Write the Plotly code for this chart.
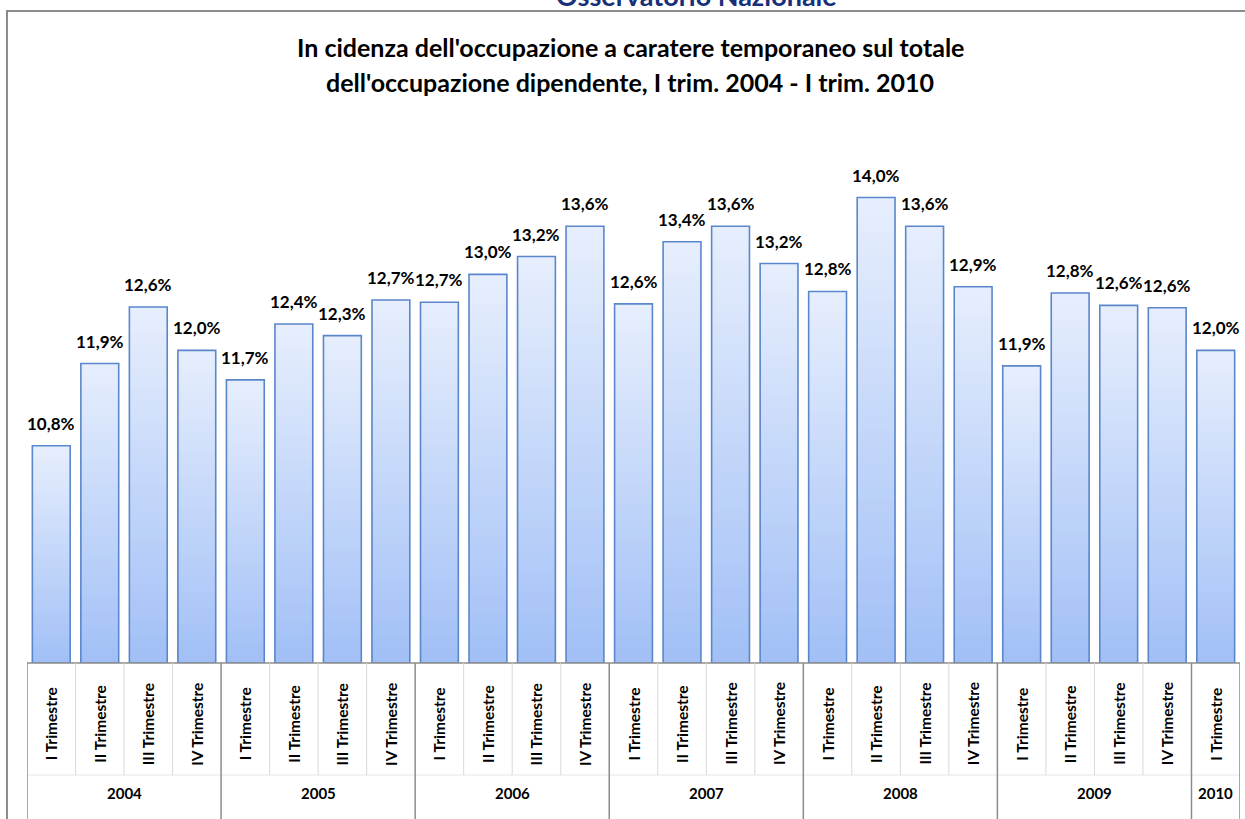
import plotly.graph_objects as go

# ---- data ----
quarters = ["I Trimestre", "II Trimestre", "III Trimestre", "IV Trimestre",
            "I Trimestre", "II Trimestre", "III Trimestre", "IV Trimestre",
            "I Trimestre", "II Trimestre", "III Trimestre", "IV Trimestre",
            "I Trimestre", "II Trimestre", "III Trimestre", "IV Trimestre",
            "I Trimestre", "II Trimestre", "III Trimestre", "IV Trimestre",
            "I Trimestre", "II Trimestre", "III Trimestre", "IV Trimestre",
            "I Trimestre"]
years = ["2004", "2005", "2006", "2007", "2008", "2009", "2010"]
year_counts = [4, 4, 4, 4, 4, 4, 1]
values = [10.80, 11.86, 12.59, 12.03, 11.65, 12.37, 12.22, 12.68,
          12.65, 13.01, 13.24, 13.63, 12.63, 13.43, 13.63, 13.15,
          12.79, 14.00, 13.63, 12.85, 11.83, 12.77, 12.61, 12.58, 12.03]
labels = ["10,8%", "11,9%", "12,6%", "12,0%", "11,7%", "12,4%", "12,3%", "12,7%",
          "12,7%", "13,0%", "13,2%", "13,6%", "12,6%", "13,4%", "13,6%", "13,2%",
          "12,8%", "14,0%", "13,6%", "12,9%", "11,9%", "12,8%", "12,6%", "12,6%", "12,0%"]
y_min, y_max = 8, 15

# ---- geometry helpers (pixel -> paper) ----
W, H = 1245, 819
ML, MR, MT, MB = 27, 5, 120, 156
PW, PH = W - ML - MR, H - MT - MB
def px(p):
    return (p - ML) / PW
def py(p):
    return (H - MB - p) / PH

FONT = "Lato"
x = list(range(len(values)))
fig = go.Figure()

# gradient bars via stacked overlay slices
N = 40
top_c = (0xE6, 0xEE, 0xFD)
bot_c = (0xA2, 0xC0, 0xF6)
for k in range(N):
    f = k / (N - 1)
    c = tuple(round(top_c[j] + (bot_c[j] - top_c[j]) * f) for j in range(3))
    frac = 1 - k / N
    fig.add_trace(go.Bar(
        x=x, y=[(v - y_min) * frac for v in values], base=y_min,
        marker=dict(color="rgb(%d,%d,%d)" % c, line=dict(width=0)),
        width=0.78, hoverinfo="skip", showlegend=False))
# outline
fig.add_trace(go.Bar(
    x=x, y=[v - y_min for v in values], base=y_min,
    marker=dict(color="rgba(0,0,0,0)", line=dict(color="#5A87CB", width=1.6)),
    width=0.78, showlegend=False,
    hovertext=labels, hoverinfo="text"))

fig.update_layout(
    width=W, height=H, barmode="overlay",
    margin=dict(l=ML, r=MR, t=MT, b=MB),
    paper_bgcolor="white", plot_bgcolor="white",
    xaxis=dict(range=[-0.5, len(values) - 0.5], showticklabels=False,
               showgrid=False, zeroline=False, fixedrange=True),
    yaxis=dict(range=[y_min, y_max], showticklabels=False, showgrid=False,
               zeroline=False, fixedrange=True),
)

shapes = []
# outer border
shapes.append(dict(type="rect", xref="paper", yref="paper",
                   x0=px(7), x1=px(1260), y0=py(900), y1=py(11),
                   line=dict(color="#8C8C8C", width=2), layer="below"))
# axis line
shapes.append(dict(type="line", xref="x", yref="paper", x0=-0.5, x1=len(values) - 0.5,
                   y0=0, y1=0, line=dict(color="#8C8C8C", width=1.5)))
# faint row line
shapes.append(dict(type="line", xref="x", yref="paper", x0=-0.5, x1=len(values) - 0.5,
                   y0=py(775), y1=py(775), line=dict(color="#E6E6E6", width=1)))
# separators
bounds = [-0.5]
acc = 0
for c in year_counts:
    acc += c
    bounds.append(acc - 0.5)
for i in range(len(values) - 1):
    b = i + 0.5
    if b in bounds:
        continue
    shapes.append(dict(type="line", xref="x", yref="paper", x0=b, x1=b,
                       y0=0, y1=py(775), line=dict(color="#D9D9D9", width=1)))
for b in bounds:
    shapes.append(dict(type="line", xref="x", yref="paper", x0=b, x1=b,
                       y0=0, y1=py(830), line=dict(color="#8C8C8C", width=1.5)))
fig.update_layout(shapes=shapes)

ann = []
# value labels
for i, (v, t) in enumerate(zip(values, labels)):
    ann.append(dict(x=i, y=v, xref="x", yref="y", text=t, showarrow=False,
                    yanchor="bottom", yshift=10,
                    font=dict(family=FONT, size=17, color="black", weight="bold")))
# quarter labels
for i, q in enumerate(quarters):
    ann.append(dict(x=i, y=py(724), xref="x", yref="paper", text=q, showarrow=False,
                    textangle=-90, xanchor="center", yanchor="middle",
                    font=dict(family=FONT, size=15.5, color="black", weight="bold")))
# year labels
start = 0
for yname, c in zip(years, year_counts):
    mid = start + (c - 1) / 2
    ann.append(dict(x=mid, y=py(804), xref="x", yref="paper", text=yname, showarrow=False,
                    font=dict(family=FONT, size=15, color="black", weight="bold")))
    start += c
# titles
ann.append(dict(x=px(696), y=py(-5), xref="paper", yref="paper",
                text="Osservatorio Nazionale", showarrow=False, yanchor="middle",
                font=dict(family=FONT, size=27, color="#17307A", weight="bold")))
ann.append(dict(x=px(630), y=py(47), xref="paper", yref="paper",
                text="In cidenza dell'occupazione a caratere temporaneo sul totale",
                showarrow=False, yanchor="middle",
                font=dict(family=FONT, size=25, color="black", weight="bold")))
ann.append(dict(x=px(630), y=py(82), xref="paper", yref="paper",
                text="dell'occupazione dipendente, I trim. 2004 - I trim. 2010",
                showarrow=False, yanchor="middle",
                font=dict(family=FONT, size=25, color="black", weight="bold")))
fig.update_layout(annotations=ann)

fig.write_html("out.html", config={"displayModeBar": False},
               post_script="document.body.style.margin='0';document.body.style.overflow='hidden';")
